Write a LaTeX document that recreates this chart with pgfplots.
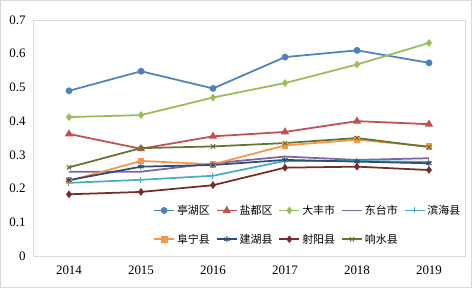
\documentclass[border=0pt]{standalone}
\usepackage{pgfplots}
\pgfplotsset{compat=1.18}
\usepackage{fontspec}
\setmainfont{Liberation Serif}
\newfontfamily\cjk{Noto Sans CJK SC}
\definecolor{cA}{HTML}{4F81BD}
\definecolor{cB}{HTML}{C0504D}
\definecolor{cC}{HTML}{9BBB59}
\definecolor{cD}{HTML}{8064A2}
\definecolor{cE}{HTML}{4BACC6}
\definecolor{cF}{HTML}{F79646}
\definecolor{cG}{HTML}{2C4D75}
\definecolor{cH}{HTML}{772C2A}
\definecolor{cI}{HTML}{5F7530}
\definecolor{frame}{HTML}{D9D9D9}
\begin{document}
\begin{tikzpicture}
\useasboundingbox (0,0) rectangle (472bp,288bp);
\draw[frame, line width=0.8bp] (0.5bp,0.5bp) rectangle (471.5bp,287.5bp);
\begin{axis}[
  at={(33bp,32bp)}, anchor=south west,
  scale only axis, width=432bp, height=236bp,
  xmin=2013.5, xmax=2019.5, ymin=0, ymax=0.7,
  xtick={2014,2015,2016,2017,2018,2019},
  ytick={0,0.1,0.2,0.3,0.4,0.5,0.6,0.7},
  major tick length=0pt,
  axis line style={frame},
  /pgf/number format/assume math mode=true,
  x tick label style={/pgf/number format/1000 sep={}, yshift=-6bp},
  y tick label style={/pgf/number format/fixed, /pgf/number format/precision=1, xshift=-4bp},
  tick label style={font=\fontsize{13}{15}\selectfont},
  every axis plot/.append style={line width=1.75bp},
  legend image code/.code={\draw[mark repeat=2,mark phase=2] plot coordinates {(0bp,0bp) (10bp,0bp) (20bp,0bp)};},
  legend style={at={(rel axis cs:0.278,0.225)}, anchor=north west, draw=none, fill=none,
    font=\cjk\fontsize{11}{13}\selectfont, row sep=14bp, inner sep=0pt,
    /tikz/every even column/.append style={column sep=4bp}},
  legend columns=5,
  legend cell align=left,
]
\addplot[color=cA, mark=*, mark size=2.5bp] coordinates {(2014,0.490) (2015,0.548) (2016,0.497) (2017,0.590) (2018,0.610) (2019,0.573)};
\addlegendentry{亭湖区}
\addplot[color=cB, mark=triangle*, mark size=3bp] coordinates {(2014,0.362) (2015,0.318) (2016,0.355) (2017,0.368) (2018,0.400) (2019,0.391)};
\addlegendentry{盐都区}
\addplot[color=cC, mark=diamond*, mark size=2.5bp] coordinates {(2014,0.412) (2015,0.418) (2016,0.470) (2017,0.513) (2018,0.568) (2019,0.632)};
\addlegendentry{大丰市}
\addplot[color=cD] coordinates {(2014,0.250) (2015,0.250) (2016,0.275) (2017,0.295) (2018,0.285) (2019,0.290)};
\addlegendentry{东台市}
\addplot[color=cE, mark=+, mark size=3bp, mark options={line width=1bp}] coordinates {(2014,0.217) (2015,0.226) (2016,0.238) (2017,0.282) (2018,0.282) (2019,0.279)};
\addlegendentry{滨海县}
\addplot[color=cF, mark=square*, mark size=2.5bp] coordinates {(2014,0.223) (2015,0.282) (2016,0.272) (2017,0.328) (2018,0.345) (2019,0.325)};
\addlegendentry{阜宁县}
\addplot[color=cG, mark=asterisk, mark size=3bp, mark options={line width=1bp}] coordinates {(2014,0.225) (2015,0.265) (2016,0.270) (2017,0.285) (2018,0.280) (2019,0.275)};
\addlegendentry{建湖县}
\addplot[color=cH, mark=diamond*, mark size=2.5bp] coordinates {(2014,0.183) (2015,0.190) (2016,0.210) (2017,0.262) (2018,0.265) (2019,0.255)};
\addlegendentry{射阳县}
\addplot[color=cI, mark=x, mark size=3bp, mark options={line width=1bp}] coordinates {(2014,0.263) (2015,0.320) (2016,0.325) (2017,0.335) (2018,0.350) (2019,0.323)};
\addlegendentry{响水县}
\end{axis}
\end{tikzpicture}
\end{document}
